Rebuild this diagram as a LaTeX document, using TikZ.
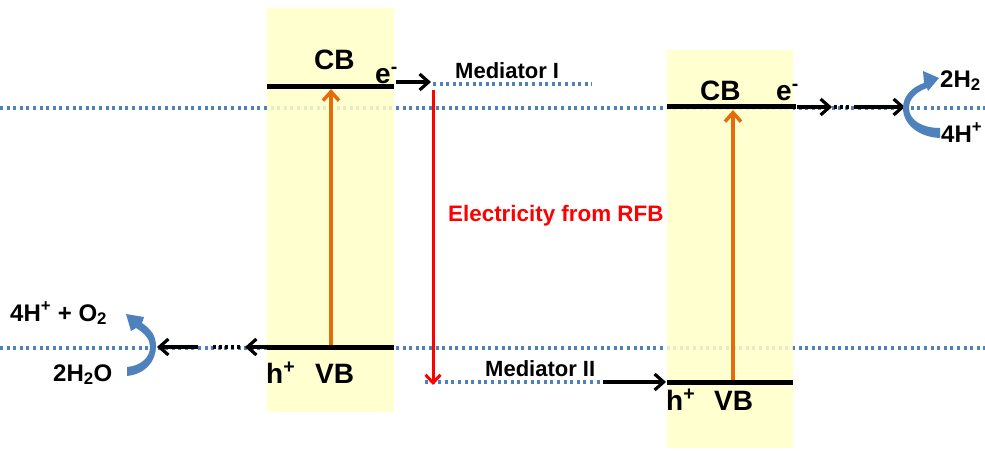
\documentclass[tikz,border=0pt]{standalone}
\usepackage{fontspec}
\setmainfont{Liberation Sans}
\usetikzlibrary{arrows.meta}
\definecolor{dotblue}{RGB}{79,129,189}
\definecolor{boxyellow}{RGB}{255,255,200}
\definecolor{bandorange}{RGB}{228,108,10}
\definecolor{curveblue}{RGB}{79,129,189}
\tikzset{
  dotline/.style={dotblue,line width=3.5pt,dash pattern=on 3pt off 3.6pt},
  band/.style={black,line width=5pt},
  excite/.style={bandorange,line width=3.5pt,-{Straight Barb[length=9pt,width=16pt,line width=3.5pt]}},
  flow/.style={black,line width=3.2pt,-{Straight Barb[length=9pt,width=16pt,line width=3.2pt]}},
  flowdots/.style={black,line width=3.2pt,dash pattern=on 3pt off 3pt},
  lab/.style={font=\fontsize{28}{30}\selectfont\bfseries,inner sep=0pt,anchor=base west},
  chem/.style={font=\fontsize{24}{26}\selectfont\bfseries,inner sep=0pt,anchor=base west},
  med/.style={font=\fontsize{22}{24}\selectfont\bfseries,inner sep=0pt,anchor=base west},
  curvearrow/.style={fill=curveblue}
}
\begin{document}
\begin{tikzpicture}[x=1pt,y=-1pt]
\useasboundingbox (0,0) rectangle (985,450);
% dotted levels
\coordinate (L1a) at (0,108); \coordinate (L1b) at (985,108);
\coordinate (L2a) at (0,348); \coordinate (L2b) at (985,348);
\draw[dotline] (L1a) -- (L1b);
\draw[dotline] (L2a) -- (L2b);
% yellow boxes
\fill[boxyellow,fill opacity=0.85] (267,8) rectangle (394,412);
\fill[boxyellow,fill opacity=0.85] (667,50) rectangle (793,448);
% mediator dotted lines
\coordinate (M1a) at (433,84); \coordinate (M1b) at (592,84);
\coordinate (M2a) at (425,382); \coordinate (M2b) at (600,382);
\draw[dotline] (M1a) -- (M1b);
\draw[dotline] (M2a) -- (M2b);
% left semiconductor
\coordinate (LCBa) at (267,86); \coordinate (LCBb) at (394,86);
\coordinate (LVBa) at (267,347); \coordinate (LVBb) at (394,347);
\draw[band] (LCBa) -- (LCBb);
\draw[band] (LVBa) -- (LVBb);
\coordinate (LEx1) at (331,345); \coordinate (LEx2) at (331,89);
\draw[excite] (LEx1) -- (LEx2);
\node[lab] (LCB) at (314,69) {CB};
\node[lab] (Le) at (375,83) {e\textsuperscript{-}};
\node[lab] (Lh) at (266,383) {h\textsuperscript{+}};
\node[lab] (LVB) at (315,383) {VB};
% right semiconductor
\coordinate (RCBa) at (667,106); \coordinate (RCBb) at (796,106);
\coordinate (RVBa) at (667,382); \coordinate (RVBb) at (793,382);
\draw[band] (RCBa) -- (RCBb);
\draw[band] (RVBa) -- (RVBb);
\coordinate (REx1) at (733,380); \coordinate (REx2) at (733,110);
\draw[excite] (REx1) -- (REx2);
\node[lab] (RCB) at (700,100) {CB};
\node[lab] (Re) at (776,100) {e\textsuperscript{-}};
\node[lab] (Rh) at (666,410) {h\textsuperscript{+}};
\node[lab] (RVB) at (714,410) {VB};
% mediators
\coordinate (MIa) at (396,82); \coordinate (MIb) at (431,82);
\draw[flow] (MIa) -- (MIb);
\node[med] (MedI) at (455,78) {Mediator I};
\coordinate (MIIa) at (603,382); \coordinate (MIIb) at (666,382);
\draw[flow] (MIIa) -- (MIIb);
\node[med] (MedII) at (485,376) {Mediator II};
% electricity
\coordinate (E1) at (433,90); \coordinate (E2) at (433,385);
\draw[red,line width=3pt,-{Straight Barb[length=8pt,width=15pt,line width=3pt]}] (E1) -- (E2);
\node[med,red,font=\fontsize{22.4}{24}\selectfont\bfseries] (Elec) at (448,221) {Electricity from RFB};
% right side H2 evolution
\coordinate (RA1) at (797,107); \coordinate (RA2) at (832,107);
\coordinate (RD1) at (834,107); \coordinate (RD2) at (852,107);
\coordinate (RB1) at (854,107); \coordinate (RB2) at (905,107);
\draw[flow] (RA1) -- (RA2);
\draw[flowdots] (RD1) -- (RD2);
\draw[flow] (RB1) -- (RB2);
\fill[curvearrow] (940,138) .. controls (918,137) and (903,124) .. (903,108)
   .. controls (903,96) and (912,87) .. (924,83) -- (923,71) -- (939,78) -- (928,91) -- (927,88)
   .. controls (916,92) and (909,99) .. (909,108)
   .. controls (909,120) and (922,128) .. (940,128) -- cycle;
\node[chem] (H2) at (940,87) {2H\textsubscript{2}};
\node[chem] (Hp) at (941,142) {4H\textsuperscript{+}};
% left side O2 evolution
\coordinate (LA1) at (267,347); \coordinate (LA2) at (245,347);
\coordinate (LD1) at (240,347); \coordinate (LD2) at (210,347);
\coordinate (LB1) at (198,347); \coordinate (LB2) at (157,347);
\draw[flow] (LA1) -- (LA2);
\draw[flowdots] (LD1) -- (LD2);
\draw[flow] (LB1) -- (LB2);
\fill[curvearrow] (127,376) .. controls (145,374) and (156,362) .. (156,346)
   .. controls (156,336) and (151,329) .. (142,323) -- (144,317) -- (126,314) -- (131,331) -- (136,328)
   .. controls (146,334) and (150,340) .. (150,347)
   .. controls (150,358) and (140,366) .. (127,367) -- cycle;
\node[chem] (O2) at (10,321) {4H\textsuperscript{+} + O\textsubscript{2}};
\node[chem] (H2O) at (53,381) {2H\textsubscript{2}O};
\end{tikzpicture}
\end{document}
